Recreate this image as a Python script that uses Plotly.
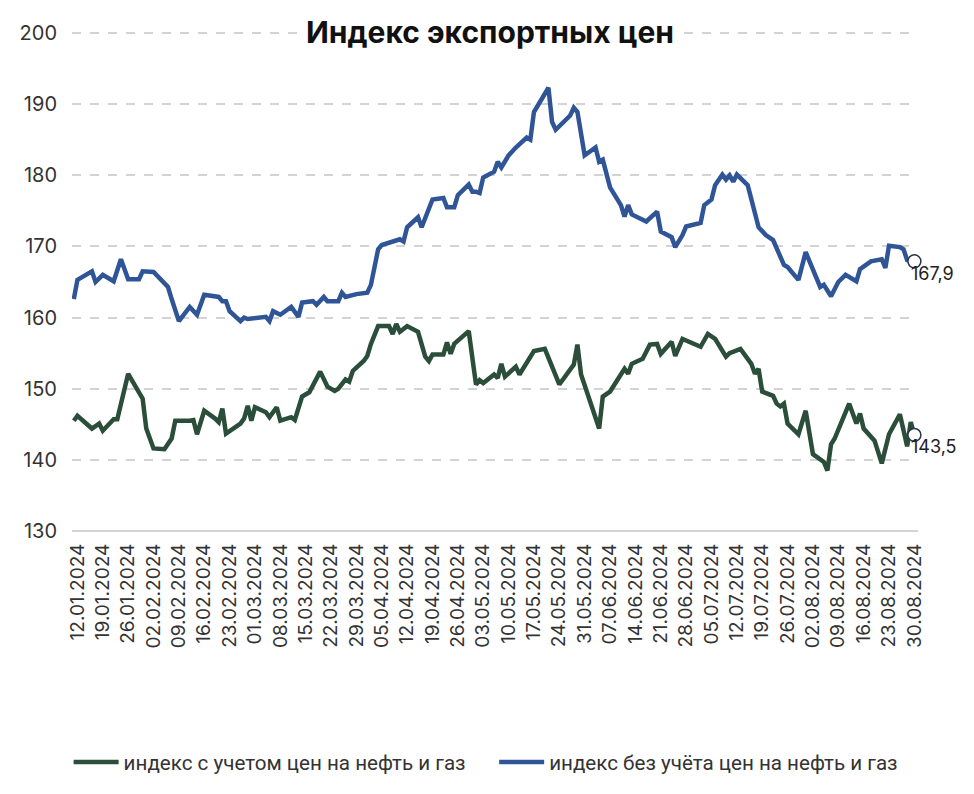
import plotly.graph_objects as go

blue_dates = ["2024-01-11","2024-01-12","2024-01-16","2024-01-17","2024-01-19","2024-01-22","2024-01-24","2024-01-26",
"2024-01-29","2024-01-30","2024-02-02","2024-02-06","2024-02-07","2024-02-09","2024-02-12","2024-02-14","2024-02-16",
"2024-02-20","2024-02-21","2024-02-22","2024-02-23","2024-02-26","2024-02-27","2024-02-28","2024-03-04","2024-03-05",
"2024-03-06","2024-03-08","2024-03-11","2024-03-13","2024-03-14","2024-03-17","2024-03-18","2024-03-20","2024-03-21",
"2024-03-24","2024-03-25","2024-03-26","2024-03-29","2024-04-01","2024-04-02","2024-04-04","2024-04-05","2024-04-08",
"2024-04-10","2024-04-11","2024-04-12","2024-04-15","2024-04-16","2024-04-19","2024-04-22","2024-04-23","2024-04-25",
"2024-04-26","2024-04-29","2024-04-30","2024-05-01","2024-05-02","2024-05-03","2024-05-06","2024-05-07","2024-05-08",
"2024-05-10","2024-05-12","2024-05-15","2024-05-16","2024-05-17","2024-05-21","2024-05-22","2024-05-23","2024-05-27",
"2024-05-28","2024-05-29","2024-05-31","2024-06-03","2024-06-04","2024-06-05","2024-06-07","2024-06-10","2024-06-11",
"2024-06-12","2024-06-13","2024-06-17","2024-06-20","2024-06-21","2024-06-24","2024-06-25","2024-06-27","2024-06-28",
"2024-07-02","2024-07-03","2024-07-05","2024-07-06","2024-07-08","2024-07-09","2024-07-10","2024-07-11","2024-07-12",
"2024-07-15","2024-07-18","2024-07-20","2024-07-22","2024-07-23","2024-07-25","2024-07-26","2024-07-29","2024-07-31",
"2024-08-02","2024-08-04","2024-08-05","2024-08-07","2024-08-09","2024-08-11","2024-08-14","2024-08-15","2024-08-18",
"2024-08-20","2024-08-21","2024-08-22","2024-08-23","2024-08-26","2024-08-27","2024-08-28","2024-08-30"]
blue_values = [162.6,165.3,166.5,165.0,166.0,165.1,168.2,165.4,
165.4,166.5,166.4,164.3,162.6,159.5,161.5,160.4,163.2,
162.9,162.3,162.3,160.9,159.5,160.0,159.8,160.1,159.5,
160.9,160.4,161.5,160.1,162.1,162.3,161.8,162.9,162.3,
162.3,163.5,162.9,163.3,163.5,164.6,169.6,170.2,170.6,
171.0,170.7,172.7,174.1,172.7,176.6,176.8,175.5,175.5,
177.2,178.7,177.7,177.7,177.5,179.7,180.5,181.9,181.1,
182.8,183.9,185.3,185.0,188.9,192.3,187.5,186.4,188.4,
189.5,188.9,182.8,183.9,181.9,182.2,178.3,175.8,174.2,
175.8,174.5,173.5,174.9,172.1,171.3,169.9,171.6,172.8,
173.3,175.8,176.6,178.6,180.1,179.4,180.0,179.1,180.1,
178.6,172.7,171.6,170.9,169.6,167.4,167.1,165.3,169.2,
166.8,164.3,164.6,163.0,165.0,166.0,165.1,166.8,167.9,
168.2,168.2,167.0,170.1,169.9,169.6,168.1,167.9]

green_dates = ["2024-01-11","2024-01-12","2024-01-16","2024-01-18","2024-01-19","2024-01-22","2024-01-23","2024-01-26",
"2024-01-30","2024-01-31","2024-02-02","2024-02-05","2024-02-07","2024-02-08","2024-02-12","2024-02-13","2024-02-14",
"2024-02-16","2024-02-19","2024-02-20","2024-02-21","2024-02-22","2024-02-26","2024-02-27","2024-02-28","2024-02-29",
"2024-03-01","2024-03-04","2024-03-05","2024-03-07","2024-03-08","2024-03-11","2024-03-12","2024-03-14","2024-03-16",
"2024-03-19","2024-03-21","2024-03-23","2024-03-24","2024-03-26","2024-03-27","2024-03-28","2024-03-31","2024-04-01",
"2024-04-02","2024-04-04","2024-04-07","2024-04-08","2024-04-09","2024-04-10","2024-04-12","2024-04-15","2024-04-17",
"2024-04-18","2024-04-19","2024-04-22","2024-04-23","2024-04-24","2024-04-25","2024-04-29","2024-05-01","2024-05-02",
"2024-05-03","2024-05-06","2024-05-07","2024-05-08","2024-05-09","2024-05-12","2024-05-13","2024-05-15","2024-05-17",
"2024-05-20","2024-05-22","2024-05-24","2024-05-28","2024-05-29","2024-05-30","2024-06-04","2024-06-05","2024-06-07",
"2024-06-11","2024-06-12","2024-06-13","2024-06-16","2024-06-18","2024-06-20","2024-06-21","2024-06-24","2024-06-25",
"2024-06-27","2024-07-02","2024-07-04","2024-07-06","2024-07-09","2024-07-10","2024-07-13","2024-07-16","2024-07-17",
"2024-07-18","2024-07-19","2024-07-22","2024-07-23","2024-07-24","2024-07-25","2024-07-26","2024-07-29","2024-07-31",
"2024-08-02","2024-08-05","2024-08-06","2024-08-07","2024-08-08","2024-08-12","2024-08-14","2024-08-15","2024-08-16",
"2024-08-19","2024-08-21","2024-08-23","2024-08-26","2024-08-28","2024-08-29","2024-08-30"]
green_values = [145.5,146.2,144.4,145.1,144.1,145.7,145.7,152.1,
148.6,144.4,141.6,141.5,143.0,145.5,145.5,145.6,143.6,
146.9,145.8,145.3,147.2,143.7,145.1,145.8,147.6,145.5,
147.4,146.7,146.0,147.4,145.5,146.0,145.6,148.9,149.5,
152.4,150.3,149.7,150.0,151.3,151.0,152.5,153.9,154.6,
156.3,158.8,158.8,157.7,159.1,158.0,158.8,158.0,154.5,
153.9,154.8,154.8,156.5,154.9,156.3,158.1,150.6,151.2,
150.8,152.0,151.5,153.5,151.7,153.1,152.0,153.8,155.3,
155.6,153.2,150.6,153.4,156.2,152.0,144.4,148.9,149.6,
152.8,152.1,153.5,154.2,156.2,156.3,154.9,156.6,154.6,
157.0,155.9,157.7,157.0,154.5,155.0,155.6,153.5,152.1,
152.8,149.6,149.0,147.9,147.5,147.9,145.1,143.6,146.9,
140.8,139.7,138.5,142.2,143.0,147.9,145.1,146.5,144.4,
142.7,139.5,143.6,146.4,141.9,145.3,143.5]

series_names = ["индекс с учетом цен на нефть и газ", "индекс без учёта цен на нефть и газ"]
title_text = "Индекс экспортных цен"
y_ticks = [130, 140, 150, 160, 170, 180, 190, 200]

GREEN = "#2a4e3a"
BLUE = "#2f5597"
FONT = "Inter"

fig = go.Figure()
fig.add_trace(go.Scatter(x=green_dates, y=green_values, mode="lines", name=series_names[0],
                         line=dict(color=GREEN, width=4.5), legend="legend"))
fig.add_trace(go.Scatter(x=blue_dates, y=blue_values, mode="lines", name=series_names[1],
                         line=dict(color=BLUE, width=4.5), legend="legend2"))
# end markers
for d, v, c in [(green_dates[-1], green_values[-1], GREEN), (blue_dates[-1], blue_values[-1], BLUE)]:
    fig.add_trace(go.Scatter(x=[d], y=[v], mode="markers", showlegend=False, hoverinfo="skip",
                             cliponaxis=False,
                             marker=dict(size=13, color="white", line=dict(color="#26364a", width=1.5))))
    fig.add_annotation(x=d, y=v, text=f"{v:.1f}".replace(".", ","), showarrow=False,
                       xanchor="left", yanchor="middle", xshift=-5, yshift=-12,
                       font=dict(family=FONT, size=18, color="#222"))

# gridline at the top edge (200) and solid baseline (130)
fig.add_shape(type="line", xref="paper", yref="paper", x0=0, x1=1, y0=1, y1=1,
              line=dict(color="#d3d3d3", width=2, dash="dash"), layer="below")
fig.add_shape(type="line", xref="paper", yref="paper", x0=0, x1=1, y0=0, y1=0,
              line=dict(color="#d3d3d3", width=2), layer="below")

fig.add_annotation(x=0.494, y=1, xref="paper", yref="paper", text=f"<b>{title_text}</b>", showarrow=False,
                   xanchor="center", yanchor="middle", bgcolor="white", borderpad=3, yshift=1,
                   font=dict(family=FONT, size=30, color="#111", weight=800))

legend_style = dict(orientation="h", y=-0.464, yanchor="middle", xanchor="left",
                    font=dict(family="Roboto", size=20.6, color="#333"), itemwidth=45,
                    bgcolor="rgba(0,0,0,0)")
fig.update_layout(
    width=974, height=794,
    margin=dict(l=72, r=56, t=33, b=261),
    paper_bgcolor="white", plot_bgcolor="white",
    font=dict(family=FONT, color="#333"),
    legend=dict(x=-0.004, **legend_style),
    legend2=dict(x=0.499, **legend_style),
    showlegend=True,
)
fig.update_xaxes(
    type="date", range=["2024-01-10 12:00", "2024-08-31"],
    tick0="2024-01-12", dtick=7 * 24 * 3600 * 1000, tickformat="%d.%m.%Y",
    tickangle=-90, tickfont=dict(family=FONT, size=19, color="#333"),
    showgrid=False, showline=False, zeroline=False, ticks="", ticklabelstandoff=8,
)
fig.update_yaxes(
    range=[130, 200], tickvals=y_ticks, showgrid=True, gridcolor="#d3d3d3", griddash="dash", gridwidth=2,
    zeroline=False, showline=False, ticks="", tickfont=dict(family=FONT, size=20, color="#333"),
    ticklabelstandoff=14,
)

fig.write_html("out.html")
